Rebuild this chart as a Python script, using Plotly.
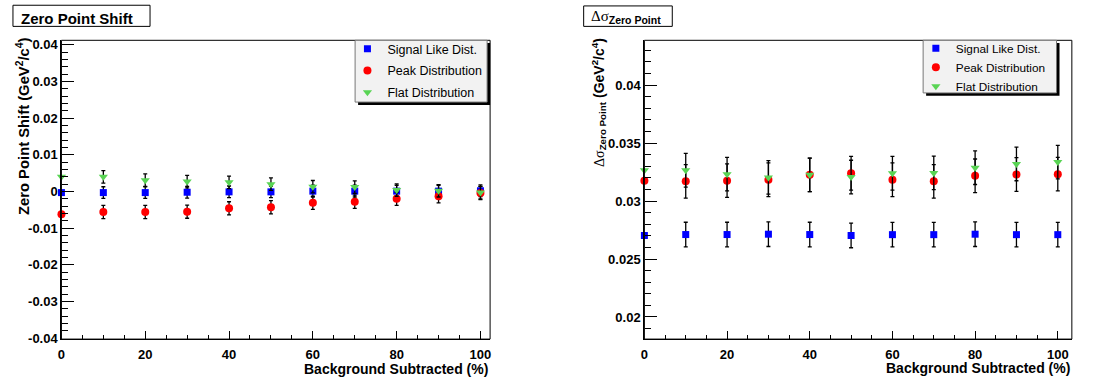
import plotly.graph_objects as go

W, H = 1107, 387

# ---------------- data ----------------
bkg_sub = [0, 10, 20, 30, 40, 50, 60, 70, 80, 90, 100]

# left panel: zero point shift
shift_signal = [-0.0003, -0.0003, -0.0003, -0.0002, -0.0001, -0.0001, 0.0001, 0.0001, 0.0001, 0.0001, 0.0002]
shift_signal_err = [0, 0.0016, 0.0016, 0.0016, 0.0016, 0.0016, 0.0016, 0.0016, 0.0016, 0.0016, 0.0016]
shift_peak = [-0.0062, -0.0056, -0.0056, -0.0055, -0.0046, -0.0043, -0.0031, -0.0028, -0.0020, -0.0013, -0.0004]
shift_peak_err = [0, 0.0018, 0.0018, 0.0018, 0.0018, 0.0018, 0.0018, 0.0018, 0.0018, 0.0018, 0.0018]
shift_flat = [0.0040, 0.0040, 0.0031, 0.0027, 0.0025, 0.0020, 0.0013, 0.0012, 0.0004, 0.0002, -0.0003]
shift_flat_err = [0, 0.0017, 0.0017, 0.0017, 0.0017, 0.0017, 0.0017, 0.0017, 0.0017, 0.0017, 0.0017]

# right panel: delta sigma of zero point
sigma_signal = [0.02703, 0.02711, 0.02711, 0.02714, 0.02711, 0.02703, 0.02710, 0.02710, 0.02714, 0.02710, 0.02710]
sigma_signal_err = [0, 0.00106, 0.00106, 0.00106, 0.00106, 0.00106, 0.00106, 0.00106, 0.00106, 0.00106, 0.00106]
sigma_peak = [0.03176, 0.03170, 0.03176, 0.03184, 0.03226, 0.03240, 0.03184, 0.03170, 0.03218, 0.03229, 0.03232]
sigma_peak_err = [0, 0.00145, 0.00145, 0.00145, 0.00145, 0.00145, 0.00145, 0.00145, 0.00145, 0.00145, 0.00145]
sigma_flat = [0.03266, 0.03266, 0.03232, 0.03204, 0.03226, 0.03207, 0.03240, 0.03243, 0.03288, 0.03320, 0.03336]
sigma_flat_err = [0, 0.00145, 0.00145, 0.00145, 0.00145, 0.00145, 0.00145, 0.00145, 0.00145, 0.00145, 0.00145]

series_names = ["Signal Like Dist.", "Peak Distribution", "Flat Distribution"]

x_tickvals = [0, 20, 40, 60, 80, 100]
x_ticktext = ["0", "20", "40", "60", "80", "100"]
left_y_tickvals = [-0.04, -0.03, -0.02, -0.01, 0, 0.01, 0.02, 0.03, 0.04]
left_y_ticktext = ["-0.04", "-0.03", "-0.02", "-0.01", "0", "0.01", "0.02", "0.03", "0.04"]
right_y_tickvals = [0.02, 0.025, 0.03, 0.035, 0.04]
right_y_ticktext = ["0.02", "0.025", "0.03", "0.035", "0.04"]

# ---------------- styling ----------------
FONT = "Liberation Sans"
colors = ["#0000ff", "#ff0000", "#59d454"]
symbols = ["square", "circle", "triangle-down"]
sizes = [7, 8, 8]


def px_x(p):
    return p / W


def px_y(p):
    return 1 - p / H


fig = go.Figure()

left_sets = [(shift_signal, shift_signal_err), (shift_peak, shift_peak_err), (shift_flat, shift_flat_err)]
right_sets = [(sigma_signal, sigma_signal_err), (sigma_peak, sigma_peak_err), (sigma_flat, sigma_flat_err)]

for i, (vals, errs) in enumerate(left_sets):
    fig.add_trace(go.Scatter(
        x=bkg_sub, y=vals, mode="markers", name=series_names[i], cliponaxis=False,
        marker=dict(symbol=symbols[i], size=sizes[i], color=colors[i], line=dict(width=0)),
        error_y=dict(type="data", array=errs, color="black", thickness=1.3, width=2),
        xaxis="x", yaxis="y", legend="legend", legendgroup="l%d" % i,
    ))

for i, (vals, errs) in enumerate(right_sets):
    fig.add_trace(go.Scatter(
        x=bkg_sub, y=vals, mode="markers", name=series_names[i], cliponaxis=False,
        marker=dict(symbol=symbols[i], size=sizes[i], color=colors[i], line=dict(width=0)),
        error_y=dict(type="data", array=errs, color="black", thickness=1.3, width=2),
        xaxis="x2", yaxis="y2", legend="legend2",
    ))

tickfont = dict(family=FONT, size=13, color="black", weight="bold")

xcommon = dict(
    tickmode="array", tickvals=x_tickvals, ticktext=x_ticktext,
    ticks="inside", ticklen=8, tickwidth=1, tickcolor="black",
    minor=dict(tickmode="linear", tick0=0, dtick=5, ticks="inside", ticklen=4, tickcolor="black", tickwidth=1),
    showline=True, linecolor="black", linewidth=1.3, mirror=False,
    showgrid=False, zeroline=False, tickfont=tickfont, ticklabelstandoff=3,
)

fig.update_layout(
    width=W, height=H,
    margin=dict(l=0, r=0, t=0, b=0),
    paper_bgcolor="white", plot_bgcolor="white",
    showlegend=True,
    xaxis=dict(domain=[px_x(57.7), px_x(488.3)], range=[0, 102.3], anchor="y", **xcommon),
    xaxis2=dict(domain=[px_x(643.3), px_x(1072.7)], range=[0, 103.4], anchor="y2", **xcommon),
    yaxis=dict(
        domain=[px_y(345), px_y(38.3)], range=[-0.04027, 0.04125], anchor="x",
        tickmode="array", tickvals=left_y_tickvals, ticktext=left_y_ticktext,
        ticks="inside", ticklen=12, tickwidth=1, tickcolor="black",
        minor=dict(tickmode="linear", tick0=0, dtick=0.002, ticks="inside", ticklen=6, tickcolor="black", tickwidth=1),
        showline=True, linecolor="black", linewidth=1.3, showgrid=False, zeroline=False, tickfont=tickfont,
    ),
    yaxis2=dict(
        domain=[px_y(345), px_y(38.3)], range=[0.01809, 0.04387], anchor="x2",
        tickmode="array", tickvals=right_y_tickvals, ticktext=right_y_ticktext,
        ticks="inside", ticklen=12, tickwidth=1, tickcolor="black",
        minor=dict(tickmode="linear", tick0=0, dtick=0.001, ticks="inside", ticklen=6, tickcolor="black", tickwidth=1),
        showline=True, linecolor="black", linewidth=1.3, showgrid=False, zeroline=False, tickfont=tickfont,
    ),
    legend=dict(
        x=px_x(345), y=px_y(32), xanchor="left", yanchor="top",
        bgcolor="rgba(0,0,0,0)", borderwidth=0,
        font=dict(family=FONT, size=12.5, color="black"),
        tracegroupgap=2.5, traceorder="grouped",
    ),
    legend2=dict(
        x=px_x(916), y=px_y(31.5), xanchor="left", yanchor="top",
        bgcolor="rgba(0,0,0,0)", borderwidth=0,
        font=dict(family=FONT, size=11.8, color="black"),
        tracegroupgap=0, traceorder="normal",
    ),
)

shapes = []
# frames
for xr, yr in (("x domain", "y domain"), ("x2 domain", "y2 domain")):
    shapes.append(dict(type="rect", xref=xr, yref=yr, x0=0, x1=1, y0=0, y1=1,
                       line=dict(color="black", width=1), fillcolor="rgba(0,0,0,0)", layer="above"))


def box(x0, y0, x1, y1, fill, line_color, lw=1):
    return dict(type="rect", xref="paper", yref="paper",
                x0=px_x(x0), x1=px_x(x1), y0=px_y(y1), y1=px_y(y0),
                fillcolor=fill, line=dict(color=line_color, width=lw), layer="above")


# legend boxes with shadows
shapes.append(box(355.7, 41, 488.3, 104.7, "black", "black", 0))
shapes.append(box(352.7, 38.3, 485.3, 101.7, "#f2f2f2", "#777777", 1))
shapes.append(box(926.3, 41, 1060.3, 95.3, "black", "black", 0))
shapes.append(box(923.3, 38.3, 1057.3, 92.3, "#f2f2f2", "#777777", 1))
# title boxes
shapes.append(box(9, 2.3, 146.7, 24, "white", "black", 1))
shapes.append(box(582.3, 3, 671.3, 24, "white", "black", 1))
fig.update_layout(shapes=shapes)

ann = []
ann.append(dict(text="<b>Zero Point Shift</b>", x=px_x(15.5), y=px_y(16.3), xref="paper", yref="paper",
                xanchor="left", yanchor="middle", showarrow=False,
                font=dict(family=FONT, size=15, color="black")))
ann.append(dict(text="<span style='font-family:Liberation Serif'>Δσ</span><sub><b>Zero Point</b></sub>",
                x=px_x(588), y=px_y(14.5), xref="paper", yref="paper",
                xanchor="left", yanchor="middle", showarrow=False,
                font=dict(family=FONT, size=15, color="black")))
ann.append(dict(text="<b>Zero Point Shift (GeV<sup>2</sup>/c<sup>4</sup>)</b>", textangle=-90,
                x=px_x(19), y=px_y(33), xref="paper", yref="paper",
                xanchor="center", yanchor="top", showarrow=False,
                font=dict(family=FONT, size=14.8, color="black")))
ann.append(dict(text="<span style='font-family:Liberation Serif'>Δσ</span><sub><b>Zero Point</b></sub> <b>(GeV<sup>2</sup>/c<sup>4</sup>)</b>",
                textangle=-90,
                x=px_x(597), y=px_y(34), xref="paper", yref="paper",
                xanchor="center", yanchor="top", showarrow=False,
                font=dict(family=FONT, size=14, color="black")))
ann.append(dict(text="<b>Background Subtracted (%)</b>", x=px_x(488.3), y=px_y(376), xref="paper", yref="paper",
                xanchor="right", yanchor="middle", showarrow=False,
                font=dict(family=FONT, size=14, color="black")))
ann.append(dict(text="<b>Background Subtracted (%)</b>", x=px_x(1072.7), y=px_y(375), xref="paper", yref="paper",
                xanchor="right", yanchor="middle", showarrow=False,
                font=dict(family=FONT, size=14, color="black")))
fig.update_layout(annotations=ann)

fig.write_html("out.html", config={"displayModeBar": False},
               post_script="document.body.style.margin='0px';document.body.style.padding='0px';")
